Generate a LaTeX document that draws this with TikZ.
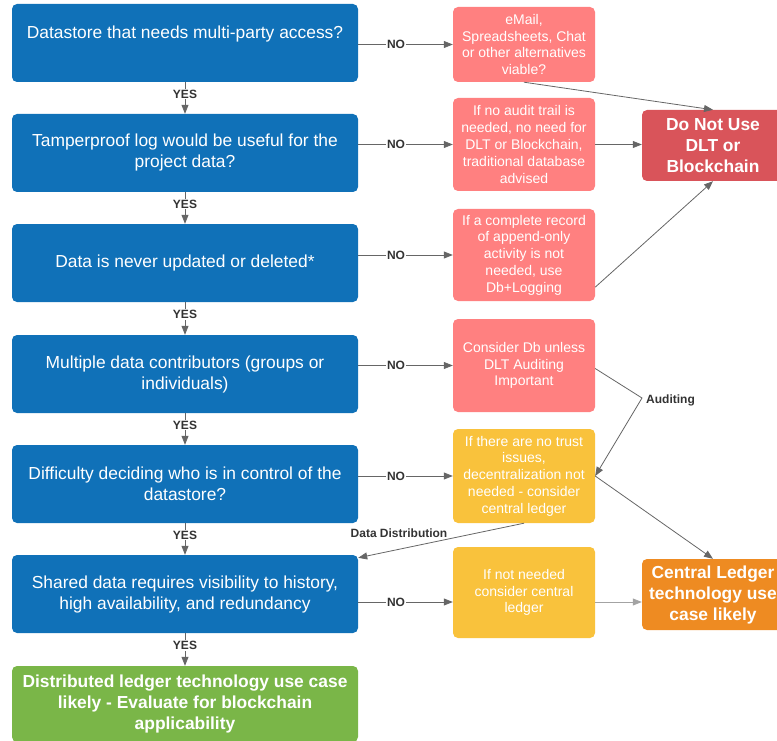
\documentclass[tikz,border=0pt]{standalone}
\usepackage{fontspec}
\setmainfont{Liberation Sans}
\usetikzlibrary{arrows.meta,calc}
\definecolor{cblue}{HTML}{1071B8}
\definecolor{cpink}{HTML}{FF8080}
\definecolor{cyellow}{HTML}{F9C23C}
\definecolor{corange}{HTML}{EE8B22}
\definecolor{cred}{HTML}{D9545A}
\definecolor{cgreen}{HTML}{7AB648}
\definecolor{cline}{HTML}{666666}
\definecolor{clab}{HTML}{333333}
\begin{document}
\begin{tikzpicture}[x=1pt,y=-1pt,
  base/.style={rounded corners=5pt, align=center, text=white, inner sep=0pt},
  bluebox/.style={base, fill=cblue, minimum width=346pt, minimum height=78pt, font=\fontsize{17.4}{21}\selectfont},
  greenbox/.style={base, fill=cgreen, minimum width=346pt, minimum height=76pt, font=\fontsize{17.4}{21}\selectfont\bfseries},
  pinkbox/.style={base, fill=cpink, minimum width=142pt, font=\fontsize{14}{16.8}\selectfont},
  yellowbox/.style={pinkbox, fill=cyellow},
  redbox/.style={base, fill=cred, minimum width=142pt, minimum height=71pt, font=\fontsize{17.4}{21}\selectfont\bfseries},
  orangebox/.style={redbox, fill=corange},
  conn/.style={draw=cline, line width=0.8pt, -{Triangle[length=9pt,width=7pt]}, fill=none},
  connl/.style={conn, draw=cline!60},
  lab/.style={text=clab, font=\fontsize{12}{14}\selectfont\bfseries, inner sep=1pt},
  yes/.style={lab, fill=white, pos=0.38},
  no/.style={lab, fill=white, pos=0.4},
]
\useasboundingbox (0,0) rectangle (777,741);

% main column
\node[bluebox] (b1) at (185,43) {Datastore that needs multi-party access?\\\mbox{}};
\node[bluebox] (b2) at (185,153) {Tamperproof log would be useful for the\\project data?};
\node[bluebox] (b3) at (185,263) {Data is never updated or deleted*};
\node[bluebox] (b4) at (185,374) {Multiple data contributors (groups or\\individuals)};
\node[bluebox] (b5) at (185,484) {Difficulty deciding who is in control of the\\datastore?};
\node[bluebox] (b6) at (185,594) {Shared data requires visibility to history,\\high availability, and redundancy};
\node[greenbox] (g) at (185,704) {Distributed ledger technology use case\\likely - Evaluate for blockchain\\applicability};

% side column
\node[pinkbox, minimum height=75pt] (p1) at (524,44.5) {eMail,\\Spreadsheets, Chat\\or other alternatives\\viable?};
\node[pinkbox, minimum height=93pt] (p2) at (524,144.5) {If no audit trail is\\needed, no need for\\DLT or Blockchain,\\traditional database\\advised};
\node[pinkbox, minimum height=92pt] (p3) at (524,255) {If a complete record\\of append-only\\activity is not\\needed, use\\Db+Logging};
\node[pinkbox, minimum height=93pt] (p4) at (524,365.5) {Consider Db unless\\DLT Auditing\\Important};
\node[yellowbox, minimum height=94pt] (y1) at (524,476) {If there are no trust\\issues,\\decentralization not\\needed - consider\\central ledger};
\node[yellowbox, minimum height=91pt] (y2) at (524,592.5) {If not needed\\consider central\\ledger};

% outcomes
\node[redbox] (dnu) at (713,145.5) {Do Not Use\\DLT or\\Blockchain};
\node[orangebox] (cl) at (713,594.5) {Central Ledger\\technology use\\case likely};

% YES connectors
\draw[conn] (b1) -- node[yes]{YES} (b2);
\draw[conn] (b2) -- node[yes]{YES} (b3);
\draw[conn] (b3) -- node[yes]{YES} (b4);
\draw[conn] (b4) -- node[yes]{YES} (b5);
\draw[conn] (b5) -- node[yes]{YES} (b6);
\draw[conn] (b6) -- node[yes]{YES} (g);

% NO connectors
\coordinate (r6) at (0,602);
\draw[conn] (b1.east |- p1.west) -- node[no]{NO} (p1.west);
\draw[conn] (b2.east |- p2.west) -- node[no]{NO} (p2.west);
\draw[conn] (b3.east |- p3.west) -- node[no]{NO} (p3.west);
\draw[conn] (b4.east |- p4.west) -- node[no]{NO} (p4.west);
\draw[conn] (b5.east |- y1.west) -- node[no]{NO} (y1.west);
\draw[conn] (b6.east |- r6) -- node[no]{NO} (y2.west |- r6);

% to outcomes
\draw[conn] (p1.south) -- (dnu.north);
\draw[conn] (p2.east) -- (p2.east -| dnu.west);
\draw[conn] ($(p3.south east)+(0,-14)$) -- (dnu.south);
\coordinate (aud) at (642,398);
\draw[conn] ($(p4.east)+(0,3)$) -- (aud) -- (y1.east);
\node[lab, anchor=west] (audl) at (645,400) {Auditing};
\draw[conn] (y1.east) -- (cl.north);
\draw[conn] (y1.south) -- ($(b6.north east)+(0,3)$);
\node[lab] (ddl) at (399,533) {Data Distribution};
\draw[connl] (y2.east |- r6) -- (cl.west |- r6);
\end{tikzpicture}
\end{document}
